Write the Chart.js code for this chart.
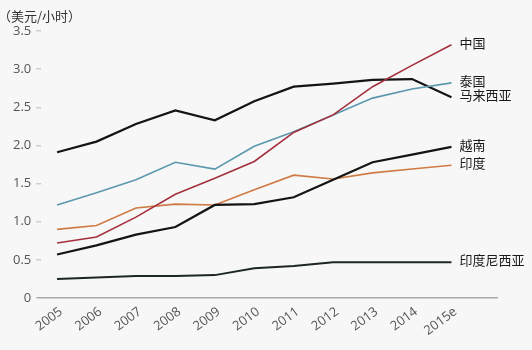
<!DOCTYPE html>
<html>
<head>
<meta charset="utf-8">
<script src="https://cdn.jsdelivr.net/npm/chart.js@4/dist/chart.umd.min.js"></script>
<style>
  body { margin: 0; background: #f7f7f7; }
  canvas { display: block; }
</style>
</head>
<body>
<canvas id="mychart" width="532" height="350"></canvas>
<script>
  // data (US$ per hour)
  var years = ['2005', '2006', '2007', '2008', '2009', '2010', '2011', '2012', '2013', '2014', '2015e'];
  var names = ['中国', '泰国', '马来西亚', '越南', '印度', '印度尼西亚'];
  var china = [0.72, 0.80, 1.06, 1.36, 1.57, 1.79, 2.17, 2.40, 2.77, 3.05, 3.32];
  var thailand = [1.22, 1.38, 1.55, 1.78, 1.69, 1.99, 2.18, 2.40, 2.62, 2.74, 2.82];
  var malaysia = [1.91, 2.05, 2.28, 2.46, 2.33, 2.58, 2.77, 2.81, 2.86, 2.87, 2.63];
  var vietnam = [0.57, 0.69, 0.83, 0.93, 1.22, 1.23, 1.32, 1.55, 1.78, 1.88, 1.98];
  var india = [0.90, 0.95, 1.18, 1.23, 1.22, 1.42, 1.61, 1.56, 1.64, 1.69, 1.74];
  var indonesia = [0.25, 0.27, 0.29, 0.29, 0.30, 0.39, 0.42, 0.47, 0.47, 0.47, 0.47];
  var yTicks = [0, 0.5, 1, 1.5, 2, 2.5, 3, 3.5];

  var series = [china, thailand, malaysia, vietnam, india, indonesia];
  var colors = ['#a3303c', '#5b97ad', '#141414', '#141414', '#cf7a43', '#1d2622'];
  var widths = [1.6, 1.6, 2.2, 2.2, 1.6, 2];

  var toPoints = (arr) => arr.map((v, i) => ({ x: i, y: v }));

  var cjk = '"Noto Sans CJK SC", "Noto Sans", sans-serif';

  // names at the end of each line + unit caption in the corner
  var endLabels = {
    id: 'endLabels',
    afterDatasetsDraw: (chart) => {
      var ctx = chart.ctx;
      ctx.save();
      ctx.font = '13px ' + cjk;
      ctx.fillStyle = '#1a1a1a';
      ctx.textBaseline = 'middle';
      ctx.textAlign = 'left';
      chart.data.datasets.forEach((ds, i) => {
        var pts = chart.getDatasetMeta(i).data;
        var last = pts[pts.length - 1];
        ctx.fillText(ds.label, last.x + 8, last.y - 2);
      });
      ctx.fillStyle = '#333';
      ctx.fillText('（美元/小时）', -2, 16);
      ctx.restore();
    }
  };

  var ctx = document.getElementById('mychart').getContext('2d');
  var myChart = new Chart(ctx, {
    type: 'line',
    data: {
      datasets: series.map((arr, i) => ({
        label: names[i],
        data: toPoints(arr),
        borderColor: colors[i],
        borderWidth: widths[i],
        pointRadius: 0,
        tension: 0,
        fill: false
      }))
    },
    options: {
      responsive: false,
      animation: false,
      layout: { padding: { top: 31, left: 8, right: 34, bottom: 10 } },
      plugins: {
        legend: { display: false },
        tooltip: { enabled: false }
      },
      scales: {
        x: {
          type: 'linear',
          min: -0.4,
          max: 11.18,
          afterBuildTicks: (scale) => {
            scale.ticks = years.map((y, i) => ({ value: i }));
          },
          // fixed height so the plot bottom sits where the reference has it
          afterFit: (scale) => {
            scale.height = 42;
          },
          ticks: {
            autoSkip: false,
            minRotation: 37,
            maxRotation: 37,
            padding: 6,
            labelOffset: 4,
            color: '#555',
            font: { family: '"Open Sans", sans-serif', size: 13 },
            callback: (v) => years[v]
          },
          grid: { display: false, drawTicks: false },
          border: { display: false }
        },
        y: {
          min: 0,
          max: 3.5,
          afterBuildTicks: (scale) => {
            scale.ticks = yTicks.map((v) => ({ value: v }));
          },
          ticks: {
            padding: 5,
            color: '#555',
            font: { family: '"Open Sans", sans-serif', size: 13 },
            callback: (v) => v === 0 ? '0' : v.toFixed(1)
          },
          grid: {
            tickLength: 5,
            lineWidth: 1.5,
            color: (c) => c.tick && c.tick.value === 0 ? '#aaaaaa' : 'rgba(0,0,0,0)',
            tickColor: (c) => c.tick && c.tick.value === 0 ? '#aaaaaa' : '#cccccc'
          },
          border: { display: false }
        }
      }
    },
    plugins: [endLabels]
  });
</script>
</body>
</html>
